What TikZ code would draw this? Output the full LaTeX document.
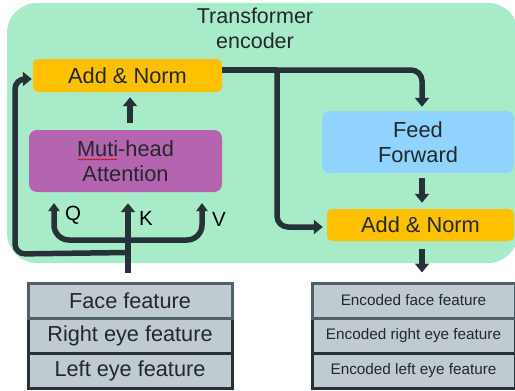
\documentclass[tikz,border=0pt]{standalone}
\usepackage{fontspec}
\setmainfont{Liberation Sans}
\usetikzlibrary{arrows.meta,decorations.pathmorphing}
\definecolor{bggreen}{RGB}{168,235,200}
\definecolor{addorange}{RGB}{255,192,0}
\definecolor{mhapurple}{RGB}{181,101,176}
\definecolor{ffblue}{RGB}{143,211,254}
\definecolor{tablefill}{RGB}{191,203,209}
\definecolor{darkline}{RGB}{38,50,56}
\definecolor{lightborder}{RGB}{80,96,106}
\definecolor{txt}{RGB}{34,40,44}
\begin{document}
\begin{tikzpicture}[x=1pt,y=-1pt,
  box/.style={rounded corners=5pt,inner sep=0pt,text=txt,align=center,
    font=\fontsize{21.8}{25}\selectfont},
  row/.style={draw=darkline,line width=3pt,fill=tablefill,inner sep=0pt,
    minimum height=35pt,text=txt},
  inrow/.style={row,minimum width=204pt,font=\fontsize{21.7}{25}\selectfont},
  outrow/.style={row,minimum width=203pt,font=\fontsize{15.3}{18}\selectfont},
  arr/.style={draw=darkline,line width=5.5pt,rounded corners=11pt,
    -{Triangle[width=14pt,length=9pt]}},
  lbl/.style={text=black,font=\fontsize{20.5}{22}\selectfont,inner sep=0pt}]
\useasboundingbox (0,0) rectangle (515,391);
% background
\fill[bggreen,rounded corners=30pt] (7,3) rectangle (518,263);
\node[text=txt,align=center,font=\fontsize{21.5}{25}\selectfont,inner sep=0pt] (title) at (255,28) {Transformer\\encoder};
% boxes
\node[box,fill=addorange,minimum width=189pt,minimum height=33pt] (an1) at (127.5,75.5) {Add \& Norm};
\node[box,fill=mhapurple,rounded corners=8pt,minimum width=193pt,minimum height=62pt] (mha) at (125.5,161) {Muti-head\\Attention};
\draw[red!80!black,line width=0.6pt,decoration={snake,amplitude=0.6pt,segment length=3pt},decorate] (78,159.5) -- (117,159.5);
\node[box,fill=ffblue,rounded corners=8pt,minimum width=192pt,minimum height=62pt] (ff) at (418,142) {Feed\\Forward};
\node[box,fill=addorange,minimum width=187pt,minimum height=32pt] (an2) at (420.5,225) {Add \& Norm};
% input table
\node[inrow] (in3) at (130,370.5) {Left eye feature};
\node[inrow] (in2) at (130,335.5) {Right eye feature};
\node[inrow,draw=lightborder] (in1) at (130,300.5) {Face feature};
% output table
\node[outrow] (out3) at (413.5,370.5) {Encoded left eye feature};
\node[outrow] (out2) at (413.5,335.5) {Encoded right eye feature};
\node[outrow,draw=lightborder] (out1) at (413.5,300.5) {Encoded face feature};
% coordinates
\coordinate (kx) at (128,0);
\coordinate (qtip) at (54,203);
\coordinate (vtip) at (202,203);
\coordinate (ubot) at (54,240);
\coordinate (loopleft) at (15,254);
\coordinate (toprow) at (0,70);
\coordinate (corner) at (422,70);
\coordinate (branch) at (277,70);
\coordinate (branchbot) at (277,227);
% connectors
\draw[arr,shorten <=7pt,shorten >=5pt] (mha.north -| 130,0) -- (an1.south -| 130,0);
\draw[arr,shorten <=9pt,shorten >=11pt] (in1.north -| kx) -- (mha.south -| kx);
\draw[arr,rounded corners=10pt,shorten >=1pt] (in1.north -| kx) ++(0,-29) -- (loopleft) -- (15,79) -- (an1.west |- 0,79);
\draw[draw=darkline,line width=5.5pt,rounded corners=15pt,
  {Triangle[width=11pt,length=8pt]}-{Triangle[width=11pt,length=8pt]}]
  (qtip) -- (ubot) -- (vtip |- ubot) -- (vtip);
\draw[draw=darkline,line width=5.5pt] (an1.east |- toprow) -- (branch);
\draw[arr] (branch) -- (corner) -- ([yshift=4pt]ff.north -| corner);
\draw[arr,shorten >=4pt] (branch) -- (branchbot) -- (an2.west |- branchbot);
\draw[arr,shorten <=5pt,shorten >=6pt] (ff.south -| corner) -- (an2.north -| corner);
\draw[arr,shorten <=8pt,shorten >=9pt] (an2.south -| corner) -- (out1.north -| corner);
% labels
\node[lbl] (q) at (73,215) {Q};
\node[lbl] (k) at (146,218) {K};
\node[lbl] (v) at (219,219) {V};
\end{tikzpicture}
\end{document}
